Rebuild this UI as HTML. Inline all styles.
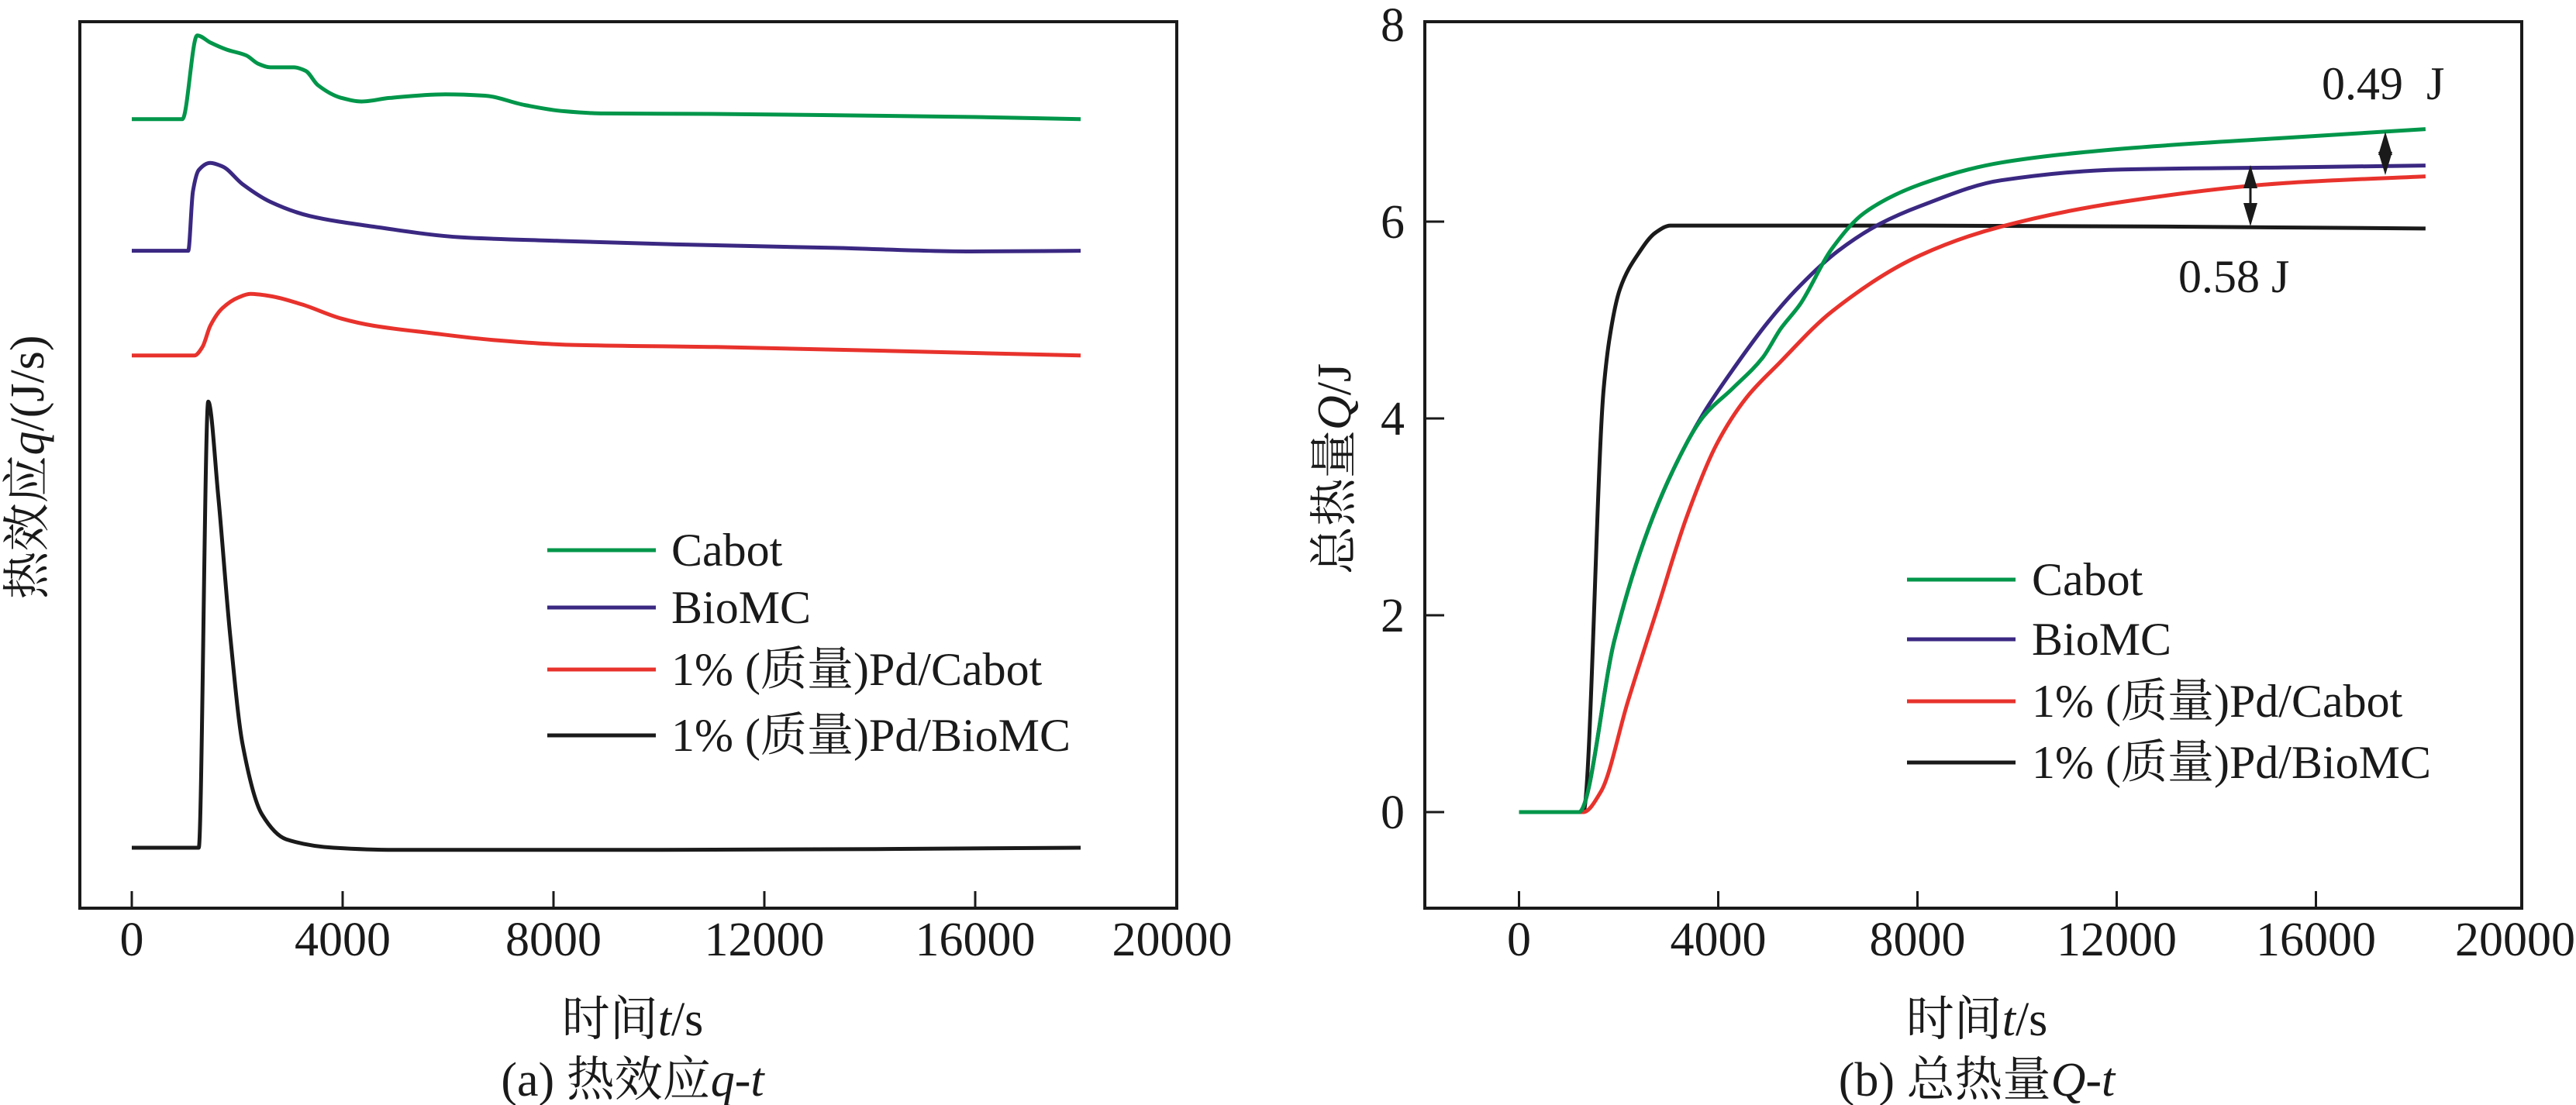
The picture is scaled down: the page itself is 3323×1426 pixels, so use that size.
<!DOCTYPE html>
<html><head><meta charset="utf-8">
<style>
html,body{margin:0;padding:0;background:#fff;}
svg{display:block;}
svg text{font-family:"Liberation Serif","Times New Roman","DejaVu Serif","Noto Serif CJK SC","Noto Sans CJK SC",serif;fill:#1a1a1a;}
</style></head>
<body>
<svg id="fig" width="3323" height="1426" viewBox="0 0 3323 1426" xmlns="http://www.w3.org/2000/svg"></svg>
<script>
// ---- Chart (a) data: heat flow q-t (offset arbitrary units) ----
const aGreenT=[0,960,1240,1490,1800,2170,2400,2630,3080,3300,3530,3980,4360,4890,5950,6700,7450,8200,8960,11000,14000,16000,18000];
const aGreenV=[89.0,89.0,98.45,97.65,96.85,96.2,95.25,94.85,94.85,94.45,92.85,91.4,91.0,91.4,91.8,91.65,90.6,89.9,89.65,89.6,89.4,89.25,89.0];
const aPurpleT=[0,1070,1160,1270,1490,1720,2100,2630,3380,4590,6250,8060,10320,13340,15900,18000];
const aPurpleV=[74.16,74.16,80.87,83.27,84.07,83.67,81.68,79.68,78.08,76.88,75.68,75.28,74.88,74.48,74.08,74.16];
const aRedT=[0,1190,1340,1490,1720,2020,2250,2630,3230,3980,4590,5640,6850,8360,11080,14090,18000];
const aRedV=[62.34,62.34,63.3,65.7,67.69,68.89,69.29,69.05,68.1,66.5,65.7,64.9,64.1,63.54,63.3,62.9,62.34];
const aBlackT=[0,1270,1450,1640,1870,2100,2470,2930,3830,5000,10000,18000];
const aBlackV=[6.82,6.82,57.15,46.52,30.54,18.56,10.57,7.77,6.82,6.57,6.57,6.82];
// ---- Chart (b) data: total heat Q-t ----
const bGreenT=[0,1203,1917,2513,3108,3703,4299,4895,5252,5643,6289,6935,8065,9680,12100,15330,18200];
const bGreenQ=[0,0,1.75,2.76,3.49,4.02,4.31,4.62,4.91,5.16,5.73,6.09,6.38,6.60,6.74,6.85,6.94];
const bPurpleT=[0,1203,1917,2513,3108,3703,4299,5000,5643,6400,7257,8065,9680,12100,15330,18200];
const bPurpleQ=[0,0,1.75,2.76,3.49,4.05,4.50,4.98,5.35,5.70,5.98,6.16,6.42,6.53,6.55,6.57];
const bRedT=[0,1290,1647,2183,2779,3374,3970,4565,5220,6289,8065,9680,12100,15330,18200];
const bRedQ=[0,0,0.21,1.12,2.07,3.01,3.74,4.21,4.56,5.09,5.66,5.95,6.20,6.39,6.46];
const bBlackT=[0,1290,1700,1825,2030,2390,2745,3040,8000,13000,18200];
const bBlackQ=[0,0,4.30,4.84,5.32,5.67,5.89,5.96,5.96,5.95,5.93];
const xTicks=[0,4000,8000,12000,16000,20000];
const yTicksB=[0,2,4,6,8];
const legendLabels=["Cabot","BioMC","1% (质量)Pd/Cabot","1% (质量)Pd/BioMC"];
const colors=["#00964a","#3a2882","#e8322c","#1a1a1a"];

const NS="http://www.w3.org/2000/svg";
const svg=document.getElementById('fig');
function mk(tag,attrs,parent){const e=document.createElementNS(NS,tag);for(const k in attrs)e.setAttribute(k,attrs[k]);(parent||svg).appendChild(e);return e;}
// monotone cubic (Fritsch-Carlson) path, no overshoot
function mono(pts){
  const n=pts.length,dx=[],dy=[],s=[],m=[];
  for(let i=0;i<n-1;i++){dx[i]=pts[i+1][0]-pts[i][0];dy[i]=pts[i+1][1]-pts[i][1];s[i]=dy[i]/dx[i];}
  m[0]=s[0];m[n-1]=s[n-2];
  for(let i=1;i<n-1;i++){ if(s[i-1]*s[i]<=0)m[i]=0; else {const w1=2*dx[i]+dx[i-1],w2=dx[i]+2*dx[i-1];m[i]=(w1+w2)/(w1/s[i-1]+w2/s[i]);} }
  let d="M"+pts[0][0].toFixed(1)+","+pts[0][1].toFixed(1);
  for(let i=0;i<n-1;i++){
    const h=dx[i]/3;
    d+=" C"+(pts[i][0]+h).toFixed(1)+","+(pts[i][1]+m[i]*h).toFixed(1)+" "+(pts[i+1][0]-h).toFixed(1)+","+(pts[i+1][1]-m[i+1]*h).toFixed(1)+" "+pts[i+1][0].toFixed(1)+","+pts[i+1][1].toFixed(1);
  }
  return d;
}
// axis functions
const axA={x:t=>170+t*0.068,y:v=>1172-v*11.44};
const axB={x:t=>1959.5+t*0.06425,y:q=>1048-q*127};

// ---- Panel (a) ----
const gA=mk('g',{});


const frameA=mk('rect',{x:103,y:28,width:1415,height:1144,fill:'none',stroke:'#1a1a1a','stroke-width':4},gA);


xTicks.forEach(t=>{
  const x=axA.x(t);
  if(t<20000){const l=mk('line',{x1:x,y1:1172,x2:x,y2:1150,stroke:'#1a1a1a','stroke-width':3},gA);
  
  }
  const tx=mk('text',{x:(t===20000?1512:x),y:1233,'font-size':62,'text-anchor':'middle'},gA);
  tx.textContent=t;
  
  
});
[[aGreenT,aGreenV],[aPurpleT,aPurpleV],[aRedT,aRedV],[aBlackT,aBlackV]].forEach((s,i)=>{
  const pts=s[0].map((t,k)=>[axA.x(t),axA.y(s[1][k])]);
  const p=mk('path',{d:mono(pts),fill:'none',stroke:colors[i],'stroke-width':5,'stroke-linejoin':'round'},gA);
  
  
});
const legYA=[710,784,864,949];
legendLabels.forEach((lab,i)=>{
  const l=mk('line',{x1:706,y1:legYA[i],x2:846,y2:legYA[i],stroke:colors[i],'stroke-width':5},gA);
  
  
  const t=mk('text',{x:866,y:legYA[i]+20,'font-size':60},gA);
  t.textContent=lab;
  
  
});
const ytA=mk('text',{x:0,y:0,'font-size':62,'text-anchor':'middle',transform:'translate(56,603) rotate(-90)'},gA);
ytA.innerHTML='热效应<tspan font-style="italic">q</tspan>/(J/s)';


const xtA=mk('text',{x:816,y:1336,'font-size':62,'text-anchor':'middle'},gA);
xtA.innerHTML='时间<tspan font-style="italic">t</tspan>/s';


const capA=mk('text',{x:816,y:1414,'font-size':62,'text-anchor':'middle'},gA);
capA.innerHTML='(a) 热效应<tspan font-style="italic">q</tspan>-<tspan font-style="italic">t</tspan>';



// ---- Panel (b) ----
const gB=mk('g',{});


const frameB=mk('rect',{x:1838,y:28,width:1415,height:1144,fill:'none',stroke:'#1a1a1a','stroke-width':4},gB);


xTicks.forEach(t=>{
  const x=axB.x(t);
  if(t<20000){const l=mk('line',{x1:x,y1:1172,x2:x,y2:1150,stroke:'#1a1a1a','stroke-width':3},gB);
  
  }
  const tx=mk('text',{x:x,y:1233,'font-size':62,'text-anchor':'middle'},gB);
  tx.textContent=t;
  
  
});
yTicksB.forEach(q=>{
  const y=axB.y(q);
  if(q<8){const l=mk('line',{x1:1838,y1:y,x2:1863,y2:y,stroke:'#1a1a1a','stroke-width':3},gB);
  
  }
  const tx=mk('text',{x:1812,y:y+21,'font-size':62,'text-anchor':'end'},gB);
  tx.textContent=q;
  
  
});
[[bBlackT,bBlackQ,3],[bRedT,bRedQ,2],[bPurpleT,bPurpleQ,1],[bGreenT,bGreenQ,0]].forEach(s=>{
  const pts=s[0].map((t,k)=>[axB.x(t),axB.y(s[1][k])]);
  const p=mk('path',{d:mono(pts),fill:'none',stroke:colors[s[2]],'stroke-width':5,'stroke-linejoin':'round'},gB);
  
  
});
function dblArrow(x,y1,y2,name){
  const g=mk('g',{},gB);
  
  
  mk('line',{x1:x,y1:y1+10,x2:x,y2:y2-10,stroke:'#1a1a1a','stroke-width':3},g);
  mk('polygon',{points:`${x},${y1} ${x-9},${y1+30} ${x+9},${y1+30}`,fill:'#1a1a1a'},g);
  mk('polygon',{points:`${x},${y2} ${x-9},${y2-30} ${x+9},${y2-30}`,fill:'#1a1a1a'},g);
}
dblArrow(3077,170,226,'arrow-0-49');
dblArrow(2903,213,292,'arrow-0-58');
const an1=mk('text',{x:2995,y:128,'font-size':60},gB);
an1.textContent='0.49  J';
an1.setAttribute('style','white-space:pre');


const an2=mk('text',{x:2810,y:377,'font-size':60},gB);
an2.textContent='0.58 J';


const legYB=[748,825,905,984];
legendLabels.forEach((lab,i)=>{
  const l=mk('line',{x1:2460,y1:legYB[i],x2:2600,y2:legYB[i],stroke:colors[i],'stroke-width':5},gB);
  
  
  const t=mk('text',{x:2621,y:legYB[i]+20,'font-size':60},gB);
  t.textContent=lab;
  
  
});
const ytB=mk('text',{x:0,y:0,'font-size':62,'text-anchor':'middle',transform:'translate(1742,605) rotate(-90)'},gB);
ytB.innerHTML='总热量<tspan font-style="italic">Q</tspan>/J';


const xtB=mk('text',{x:2550,y:1336,'font-size':62,'text-anchor':'middle'},gB);
xtB.innerHTML='时间<tspan font-style="italic">t</tspan>/s';


const capB=mk('text',{x:2550,y:1414,'font-size':62,'text-anchor':'middle'},gB);
capB.innerHTML='(b) 总热量<tspan font-style="italic">Q</tspan>-<tspan font-style="italic">t</tspan>';


</script>
</body></html>
